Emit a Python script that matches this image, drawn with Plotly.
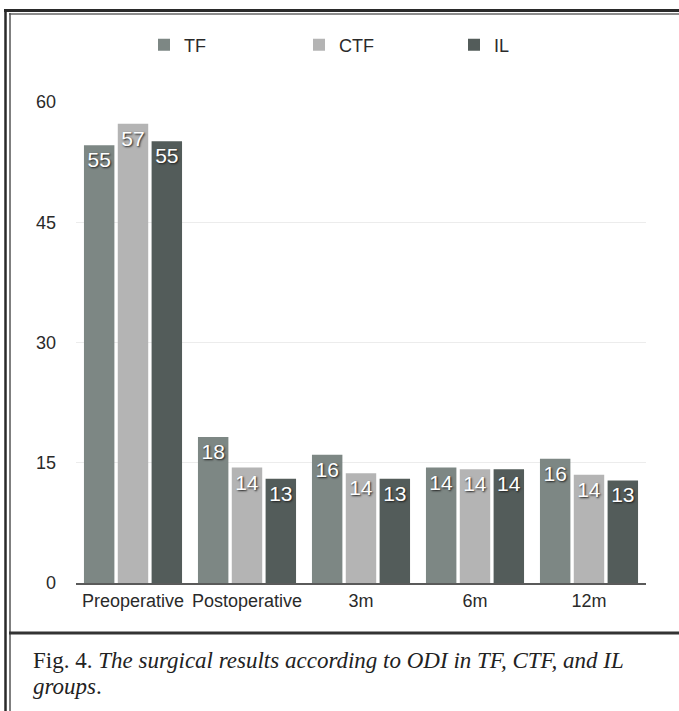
import plotly.graph_objects as go

# ---- data ----
categories = ["Preoperative", "Postoperative", "3m", "6m", "12m"]
tf_values = [54.6, 18.2, 16.0, 14.4, 15.5]
ctf_values = [57.3, 14.4, 13.7, 14.2, 13.5]
il_values = [55.1, 13.0, 13.0, 14.2, 12.8]
tf_labels = ["55", "18", "16", "14", "16"]
ctf_labels = ["57", "14", "14", "14", "14"]
il_labels = ["55", "13", "13", "14", "13"]
y_ticks = [0, 15, 30, 45, 60]

W, H = 679, 711
ML, MR, MT, MB = 76, 33, 102, 128
PW, PH = W - ML - MR, H - MT - MB


def px(x):
    return (x - ML) / PW


def py(y):
    return (H - MB - y) / PH


FONT = "Liberation Sans, Arial, Helvetica, sans-serif"
label_font = dict(family=FONT, size=21, color="white", shadow="1px 1px 2px #1e1e1e")

fig = go.Figure()
for name, vals, labels, color in [
    ("TF", tf_values, tf_labels, "#7d8784"),
    ("CTF", ctf_values, ctf_labels, "#b4b4b4"),
    ("IL", il_values, il_labels, "#535c5a"),
]:
    fig.add_trace(go.Bar(
        name=name, x=categories, y=vals, text=labels,
        textposition="inside", insidetextanchor="end", textangle=0,
        textfont=label_font, insidetextfont=label_font,
        marker=dict(color=color, line=dict(width=0)),
        hoverinfo="skip",
    ))

shapes = []
def hline(y, x0, x1, color, width):
    shapes.append(dict(type="line", xref="paper", yref="paper",
                       x0=px(x0), x1=px(x1), y0=py(y), y1=py(y),
                       line=dict(color=color, width=width)))

def vline(x, y0, y1, color, width):
    shapes.append(dict(type="line", xref="paper", yref="paper",
                       x0=px(x), x1=px(x), y0=py(y0), y1=py(y1),
                       line=dict(color=color, width=width)))

hline(10.5, 4, 700, "#2a2a2a", 3)
hline(14, 9, 700, "#666666", 1.5)
vline(5.5, 9, 720, "#2a2a2a", 2.5)
vline(10, 13, 720, "#555555", 1.5)
hline(633, 9, 700, "#333333", 3)

CAP_FONT = dict(family="Liberation Serif, Times New Roman, serif", size=23, color="#222222")
annotations = [
    dict(xref="paper", yref="paper", x=px(31), y=py(660), xanchor="left", yanchor="middle",
         text="Fig. 4. <i>The surgical results according to ODI in TF, CTF, and IL</i>",
         showarrow=False, font=CAP_FONT),
    dict(xref="paper", yref="paper", x=px(31), y=py(686), xanchor="left", yanchor="middle",
         text="<i>groups</i>.", showarrow=False, font=CAP_FONT),
]

fig.update_layout(
    width=W, height=H,
    margin=dict(l=ML, r=MR, t=MT, b=MB, pad=0),
    paper_bgcolor="white", plot_bgcolor="white",
    barmode="group", bargap=0.11, bargroupgap=0.1,
    font=dict(family=FONT, color="#2a2a2a"),
    showlegend=True,
    legend=dict(orientation="h", x=px(144), xanchor="left", y=py(45), yanchor="middle",
                font=dict(family=FONT, size=18, color="#2a2a2a"),
                entrywidth=110, entrywidthmode="pixels",
                bgcolor="rgba(0,0,0,0)", traceorder="normal"),
    xaxis=dict(showline=True, linecolor="#5a5a5a", linewidth=2, ticks="",
               tickfont=dict(family=FONT, size=18, color="#2a2a2a"), showgrid=False),
    yaxis=dict(range=[0, 60], tickvals=y_ticks, showgrid=True, gridcolor="#ececec",
               gridwidth=1, zeroline=False, showline=False, ticks="",
               ticklabelstandoff=19,
               tickfont=dict(family=FONT, size=18, color="#2a2a2a")),
    shapes=shapes,
    annotations=annotations,
)

fig.write_html(
    "out.html",
    config={"displayModeBar": False},
    post_script="document.body.style.margin='0';document.body.style.overflow='hidden';",
)
